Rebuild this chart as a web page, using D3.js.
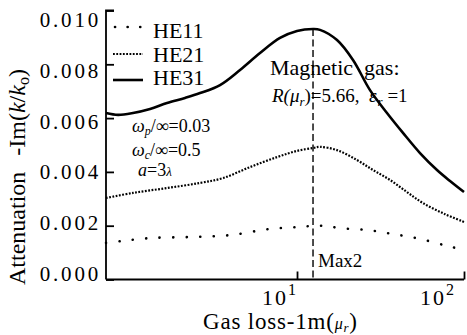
<!DOCTYPE html>
<html>
<head>
<meta charset="utf-8">
<script src="https://cdn.jsdelivr.net/npm/d3@7/dist/d3.min.js"></script>
<style>
  body { margin: 0; background: #fff; }
</style>
</head>
<body>
<script>
// gas loss values (log axis) and attenuation
const he31X = [0.718, 0.848, 1.042, 1.318, 1.666, 2.135, 2.626, 3.459, 4.558, 6.003, 7.91, 10, 12.47, 13.73, 17.36, 21.64, 27.36, 34.58, 43.12, 54.52, 68.92, 82.47, 100]
const he31Y = [0.00619, 0.00612, 0.00619, 0.00634, 0.00656, 0.00675, 0.00693, 0.00723, 0.00779, 0.00842, 0.00898, 0.00924, 0.00931, 0.00928, 0.0089, 0.00816, 0.00704, 0.00619, 0.00545, 0.0047, 0.00407, 0.00366, 0.00325]
const he21X = [0.718, 1.042, 1.666, 2.626, 3.606, 5.232, 7.59, 10, 12.47, 13.73, 17.36, 22.87, 28.52, 36.06, 45.58, 56.82, 76.96, 100]
const he21Y = [0.00303, 0.00322, 0.0034, 0.00359, 0.00377, 0.00418, 0.00455, 0.00478, 0.00489, 0.00493, 0.00481, 0.00444, 0.00407, 0.0037, 0.00325, 0.00284, 0.00243, 0.00214]
const he11X = [0.718, 0.896, 1.318, 2.287, 3.97, 6.89, 10, 12.3, 14.72, 18.09, 26.26, 37.58, 54.5, 79.1, 100]
const he11Y = [0.00136, 0.00143, 0.00154, 0.00158, 0.00165, 0.00188, 0.00195, 0.00199, 0.00199, 0.00191, 0.00184, 0.00169, 0.00151, 0.00125, 0.0011]
const yTicks = [0, 0.002, 0.004, 0.006, 0.008, 0.010]
const xTicks = [10, 100]
const xTickExp = ["1", "2"]
const series = ["HE11", "HE21", "HE31"]
const maxX = 12.47
const maxY = 0.00931

const W = 467, H = 335
const serif = "'Liberation Serif', 'Times New Roman', Tinos, 'DejaVu Serif', serif"

const svg = d3.select("body").append("svg")
    .attr("width", W)
    .attr("height", H)
    .attr("font-family", serif)
    .style("display", "block")

const x = d3.scaleLog().domain([0.718, 100]).range([106, 464])
const y = d3.scaleLinear().domain([0, 0.010]).range([279.5, 10.5])
// tick labels in the figure sit on their own, slightly tighter spacing
const yLab = d3.scaleLinear().domain([0, 0.010]).range([281, 27])

// axes, ticks pointing inward
svg.append("g")
    .attr("transform", `translate(${x.range()[0]},0)`)
    .call(d3.axisRight(y).tickValues(yTicks).tickSize(8).tickFormat(""))
    .call(g => g.select(".domain").attr("d", `M8,${y(0.010)}H0V${y(0)}`))
    .call(g => g.selectAll("path,line").attr("stroke", "#000").attr("stroke-width", 1.8))

svg.append("g")
    .attr("transform", `translate(0,${y(0)})`)
    .call(d3.axisBottom(x).tickValues(xTicks).tickSize(-8).tickFormat(""))
    .call(g => g.select(".domain").attr("d", `M${x.range()[0]},0H${x.range()[1]}`))
    .call(g => g.selectAll("path,line").attr("stroke", "#000").attr("stroke-width", 1.8))

svg.append("g")
    .selectAll("text")
    .data(yTicks)
    .enter()
    .append("text")
    .attr("x", 101)
    .attr("y", d => yLab(d))
    .attr("text-anchor", "end")
    .attr("font-size", 21)
    .attr("letter-spacing", 2.8)
    .text(d => d3.format(".3f")(d))

const xl = svg.append("g")
    .selectAll("text")
    .data(xTicks)
    .enter()
    .append("text")
    .attr("x", (d, i) => x(d) - (i ? 44 : 35))
    .attr("y", 305)
    .attr("font-size", 22)
    .attr("letter-spacing", 2)
xl.append("tspan").text("10")
xl.append("tspan").attr("dy", -10).attr("font-size", 16).text((d, i) => xTickExp[i])

// curves
const line = d3.line()
    .x(d => x(d[0]))
    .y(d => y(d[1]))
    .curve(d3.curveCatmullRom.alpha(0.5))

const styles = {
    HE11: { width: 2.6, dash: "0.1 13.4", cap: "round" },
    HE21: { width: 2.2, dash: "1.8 1.5", cap: "butt" },
    HE31: { width: 2.6, dash: null, cap: "butt" }
}
const data = {
    HE11: d3.zip(he11X, he11Y),
    HE21: d3.zip(he21X, he21Y),
    HE31: d3.zip(he31X, he31Y)
}

series.forEach(s => {
    svg.append("path")
        .datum(data[s])
        .attr("d", line)
        .attr("fill", "none")
        .attr("stroke", "#000")
        .attr("stroke-width", styles[s].width)
        .attr("stroke-linecap", styles[s].cap)
        .attr("stroke-dasharray", styles[s].dash)
})

// dashed marker at the maximum
svg.append("line")
    .attr("x1", x(maxX)).attr("x2", x(maxX))
    .attr("y1", y(maxY)).attr("y2", y(0))
    .attr("stroke", "#000")
    .attr("stroke-width", 1.4)
    .attr("stroke-dasharray", "7 3.5")

svg.append("text")
    .attr("x", x(maxX) + 5)
    .attr("y", 267)
    .attr("font-size", 19)
    .text("Max2")

// legend
const legend = svg.append("g")
series.forEach((s, i) => {
    const ly = [27, 54, 80][i]
    legend.append("line")
        .attr("x1", s === "HE11" ? 115 : 113).attr("x2", 143)
        .attr("y1", ly).attr("y2", ly)
        .attr("stroke", "#000")
        .attr("stroke-width", styles[s].width)
        .attr("stroke-linecap", styles[s].cap)
        .attr("stroke-dasharray", s === "HE11" ? "0.1 12.5" : styles[s].dash)
    legend.append("text")
        .attr("x", 153)
        .attr("y", [38, 62, 85][i])
        .attr("font-size", 22)
        .text(s)
})

// annotations
svg.append("text")
    .attr("x", 270).attr("y", 75)
    .attr("font-size", 22)
    .text("Magnetic\u00a0\u00a0gas:")

const r = svg.append("text").attr("x", 272).attr("y", 102).attr("font-size", 19)
r.append("tspan").attr("font-style", "italic").text("R(μ")
r.append("tspan").attr("font-style", "italic").attr("font-size", 13).attr("dy", 4).text("r")
r.append("tspan").attr("dy", -4).text(")=5.66,\u00a0\u00a0")
r.append("tspan").attr("font-style", "italic").text("ε")
r.append("tspan").attr("font-style", "italic").attr("font-size", 13).attr("dx", 1).attr("dy", 4).text("r")
r.append("tspan").attr("dy", -4).text("\u00a0=1")

const params = [["ω", "p", "/∞=0.03"], ["ω", "c", "/∞=0.5"]]
params.forEach((p, i) => {
    const t = svg.append("text").attr("x", 132).attr("y", [132, 156][i]).attr("font-size", 18)
    t.append("tspan").attr("font-style", "italic").text(p[0])
    t.append("tspan").attr("font-style", "italic").attr("font-size", 12).attr("dy", 3).text(p[1])
    t.append("tspan").attr("dy", -3).text(p[2])
})
const a = svg.append("text").attr("x", 138).attr("y", 176).attr("font-size", 18)
a.append("tspan").attr("font-style", "italic").text("a")
a.append("tspan").text("=3")
a.append("tspan").attr("font-size", 13).attr("font-style", "italic").text("λ")

// axis titles
const xt = svg.append("text")
    .attr("x", 203).attr("y", 329)
    .attr("font-size", 23)
    .attr("letter-spacing", 0.8)
xt.append("tspan").text("Gas loss-1m(")
xt.append("tspan").attr("font-style", "italic").attr("font-size", 16).text("μ")
xt.append("tspan").attr("font-style", "italic").attr("font-size", 13).attr("dy", 3).text("r")
xt.append("tspan").attr("dy", -3).text(")")

const yt = svg.append("text")
    .attr("transform", "translate(25,285) rotate(-90)")
    .attr("font-size", 24)
yt.append("tspan").text("Attenuation")
yt.append("tspan").attr("dx", 16).text("-Im(")
yt.append("tspan").attr("font-style", "italic").text("k")
yt.append("tspan").text("/")
yt.append("tspan").attr("font-style", "italic").text("k")
yt.append("tspan").attr("font-size", 16).attr("dy", 4).text("o")
yt.append("tspan").attr("dy", -4).text(")")
</script>
</body>
</html>
